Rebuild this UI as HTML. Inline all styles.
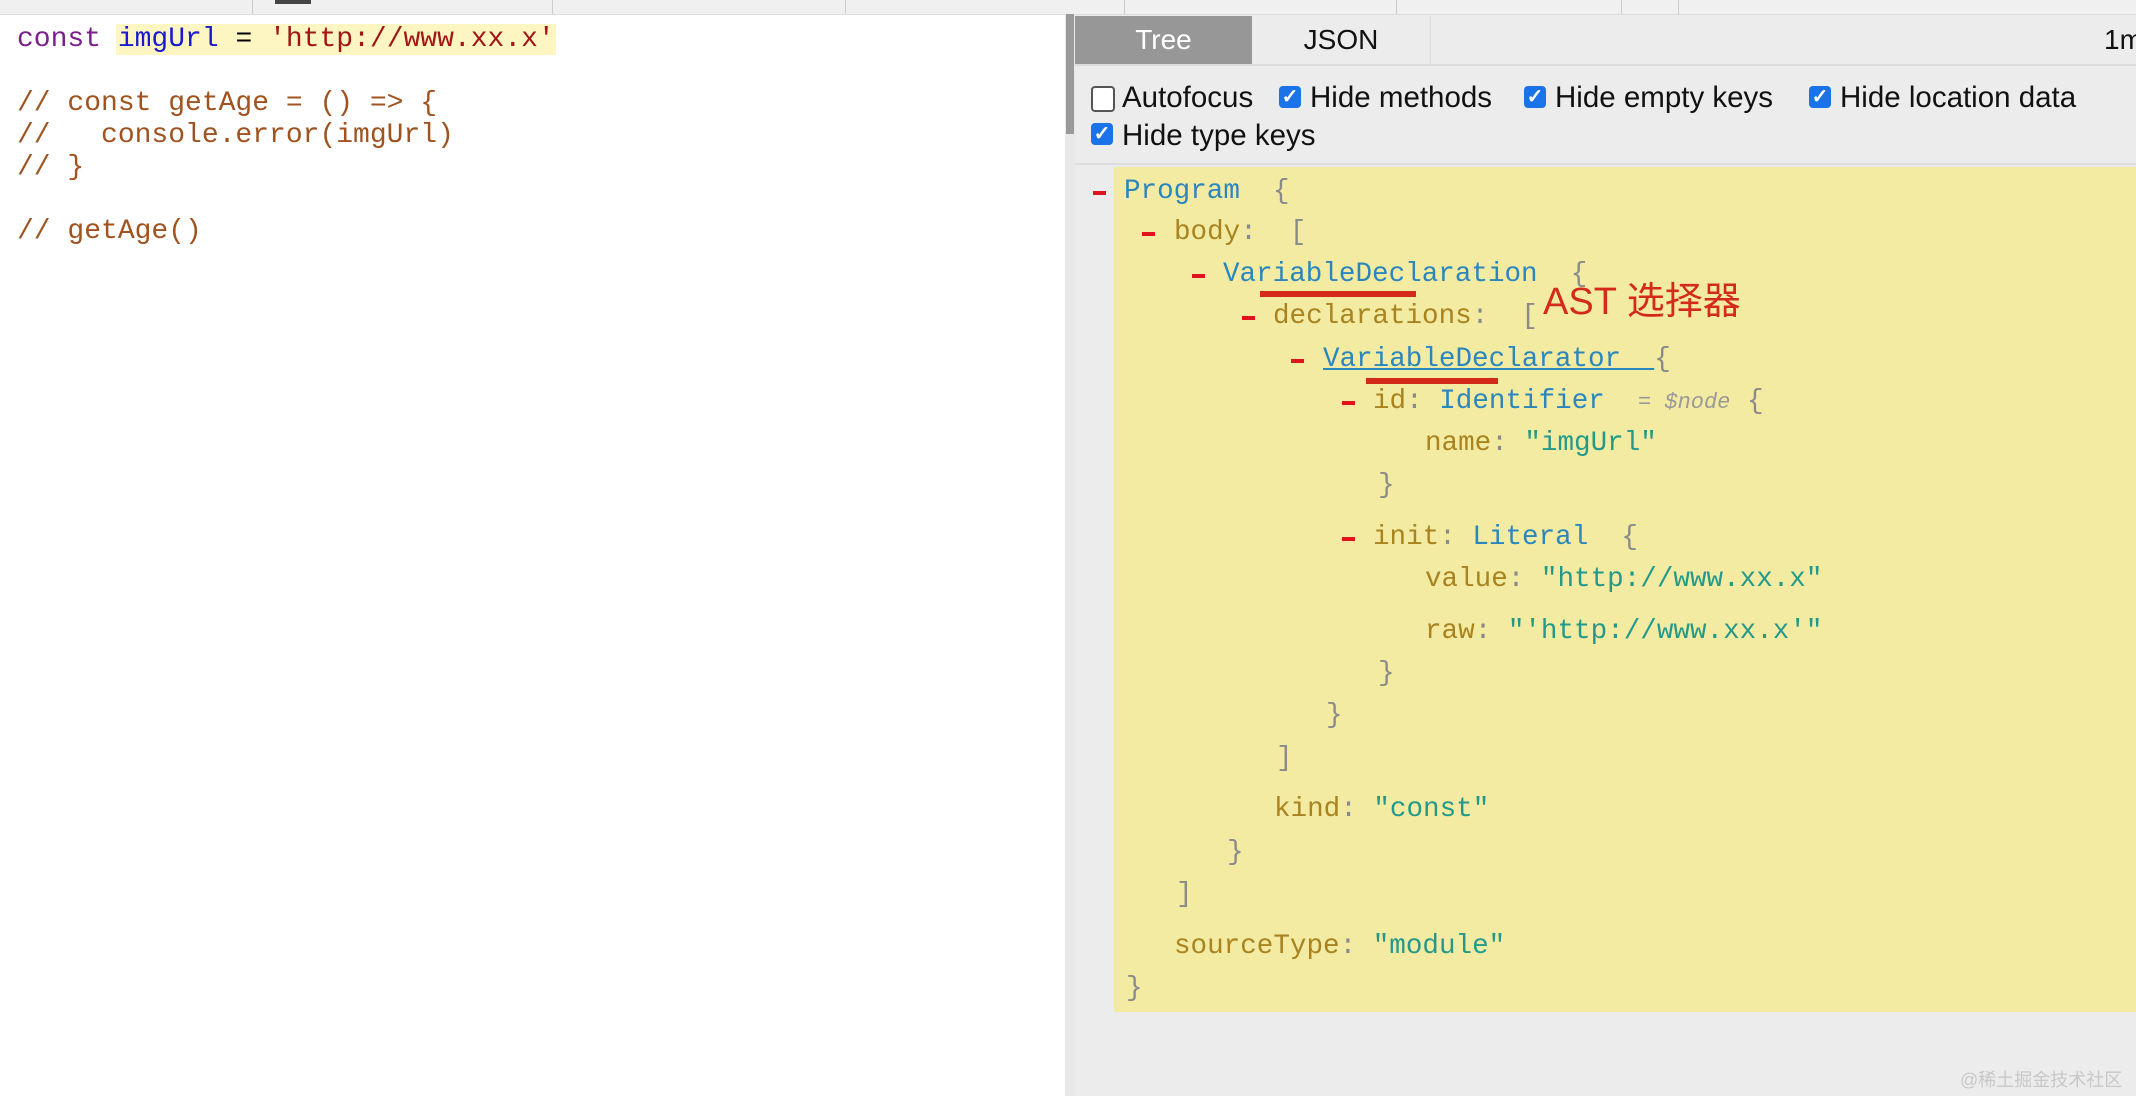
<!DOCTYPE html>
<html><head><meta charset="utf-8"><style>
body{margin:0;width:2136px;height:1096px;position:relative;overflow:hidden;background:#fff;font-family:"Liberation Sans",sans-serif}
.a{position:absolute;white-space:pre}
.m{font-family:"Liberation Mono",monospace;font-size:28px;line-height:32px}
.t{font-family:"Liberation Mono",monospace;font-size:27.6px;line-height:34px}
.d{position:absolute;width:13px;height:4px;background:#e0141e}
.ty{color:#2a86bd}.k{color:#a8831f}.s{color:#23998a}.b{color:#8a8a8a}.n{color:#999;font-style:italic;font-size:22px}
.cb{position:absolute;width:22px;height:22px;border-radius:4px;background:#1a73e8;color:#fff;font-size:20px;line-height:22px;text-align:center;font-weight:bold}
.cl{position:absolute;font-size:29.5px;color:#111;line-height:34px}
</style></head><body>
<div class="a" style="left:0;top:0;width:2136px;height:14px;background:#f0f0f0;border-bottom:1px solid #ddd"></div>
<div class="a" style="left:252px;top:0;width:1px;height:14px;background:#ccc"></div>
<div class="a" style="left:275px;top:0;width:36px;height:4px;background:#444"></div>
<div class="a" style="left:552px;top:0;width:1px;height:14px;background:#ccc"></div>
<div class="a" style="left:845px;top:0;width:1px;height:14px;background:#ccc"></div>
<div class="a" style="left:1124px;top:0;width:1px;height:14px;background:#ccc"></div>
<div class="a" style="left:1396px;top:0;width:1px;height:14px;background:#ccc"></div>
<div class="a" style="left:1621px;top:0;width:1px;height:14px;background:#ccc"></div>
<div class="a" style="left:1678px;top:0;width:1px;height:14px;background:#ccc"></div>

<div class="a" style="left:116px;top:24px;width:440px;height:31px;background:#fdf6c3"></div>
<div class="a m" style="left:17px;top:24px"><span style="color:#7a1f8c">const</span> <span style="color:#1a1ad0">imgUrl</span> = <span style="color:#a31515">'http://www.xx.x'</span></div>
<div class="a m" style="left:17px;top:88px;color:#a0521f">// const getAge = () =&gt; {</div>
<div class="a m" style="left:17px;top:120px;color:#a0521f">//   console.error(imgUrl)</div>
<div class="a m" style="left:17px;top:152px;color:#a0521f">// }</div>
<div class="a m" style="left:17px;top:216px;color:#a0521f">// getAge()</div>

<div class="a" style="left:1065px;top:14px;width:10px;height:1082px;background:#e8e8e8"></div>
<div class="a" style="left:1066px;top:14px;width:8px;height:120px;background:#9a9a9a"></div>
<div class="a" style="left:1075px;top:15px;width:1061px;height:1081px;background:#ececec"></div>
<div class="a" style="left:1075px;top:16px;width:177px;height:48px;background:#979797;color:#fff;font-size:28px;line-height:48px;text-align:center">Tree</div>
<div class="a" style="left:1252px;top:16px;width:178px;height:48px;border-right:1px solid #ddd;color:#111;font-size:28px;line-height:48px;text-align:center">JSON</div>
<div class="a" style="left:2104px;top:16px;font-size:28px;line-height:48px;color:#111">1m</div>
<div class="a" style="left:1075px;top:64px;width:1061px;height:2px;background:#ddd"></div>

<div class="a" style="left:1091px;top:86px;width:20px;height:22px;border:2px solid #555;border-radius:4px;background:#fff"></div>
<div class="cl" style="left:1122px;top:81px">Autofocus</div>
<div class="cb" style="left:1279px;top:86px">✓</div>
<div class="cl" style="left:1310px;top:81px">Hide methods</div>
<div class="cb" style="left:1524px;top:86px">✓</div>
<div class="cl" style="left:1555px;top:81px">Hide empty keys</div>
<div class="cb" style="left:1809px;top:86px">✓</div>
<div class="cl" style="left:1840px;top:81px">Hide location data</div>
<div class="cb" style="left:1091px;top:123px">✓</div>
<div class="cl" style="left:1122px;top:119px">Hide type keys</div>
<div class="a" style="left:1075px;top:163px;width:1061px;height:2px;background:#ddd"></div>

<div class="a" style="left:1114px;top:167px;width:1022px;height:845px;background:#f4eba3"></div>

<div class="d" style="left:1093px;top:191px"></div><div class="a t" style="left:1124px;top:175px"><span class="ty">Program</span>  <span class="b">{</span></div>
<div class="d" style="left:1142px;top:232px"></div><div class="a t" style="left:1174px;top:216px"><span class="k">body</span><span class="b">:  [</span></div>
<div class="d" style="left:1192px;top:274px"></div><div class="a t" style="left:1223px;top:258px"><span class="ty">VariableDeclaration</span>  <span class="b">{</span></div>
<div class="d" style="left:1242px;top:316px"></div><div class="a t" style="left:1273px;top:300px"><span class="k">declarations</span><span class="b">:  [</span></div>
<div class="d" style="left:1291px;top:359px"></div><div class="a t" style="left:1323px;top:343px"><span class="ty" style="text-decoration:underline">VariableDeclarator  </span><span class="b">{</span></div>
<div class="d" style="left:1342px;top:401px"></div><div class="a t" style="left:1373px;top:385px"><span class="k">id</span><span class="b">: </span><span class="ty">Identifier</span>  <span class="n">= $node</span> <span class="b">{</span></div>
<div class="a t" style="left:1425px;top:427px"><span class="k">name</span><span class="b">: </span><span class="s">"imgUrl"</span></div>
<div class="a t b" style="left:1378px;top:469px">}</div>
<div class="d" style="left:1342px;top:537px"></div><div class="a t" style="left:1373px;top:521px"><span class="k">init</span><span class="b">: </span><span class="ty">Literal</span>  <span class="b">{</span></div>
<div class="a t" style="left:1425px;top:563px"><span class="k">value</span><span class="b">: </span><span class="s">"http://www.xx.x"</span></div>
<div class="a t" style="left:1425px;top:615px"><span class="k">raw</span><span class="b">: </span><span class="s">"'http://www.xx.x'"</span></div>
<div class="a t b" style="left:1378px;top:657px">}</div>
<div class="a t b" style="left:1326px;top:699px">}</div>
<div class="a t b" style="left:1276px;top:742px">]</div>
<div class="a t" style="left:1274px;top:793px"><span class="k">kind</span><span class="b">: </span><span class="s">"const"</span></div>
<div class="a t b" style="left:1227px;top:836px">}</div>
<div class="a t b" style="left:1176px;top:878px">]</div>
<div class="a t" style="left:1174px;top:930px"><span class="k">sourceType</span><span class="b">: </span><span class="s">"module"</span></div>
<div class="a t b" style="left:1126px;top:972px">}</div>

<div class="a" style="left:1260px;top:291px;width:156px;height:6px;background:#d42a1c"></div>
<div class="a" style="left:1366px;top:378px;width:132px;height:6px;background:#d42a1c"></div>
<div class="a" style="left:1543px;top:278px;font-family:'Liberation Sans','Noto Sans CJK SC',sans-serif;font-size:38px;line-height:48px;color:#d42a1c">AST 选择器</div>

<div class="a" style="left:1960px;top:1066px;font-family:'Liberation Sans','Noto Sans CJK SC',sans-serif;font-size:18px;color:#c8c8c8">@稀土掘金技术社区</div>
</body></html>
